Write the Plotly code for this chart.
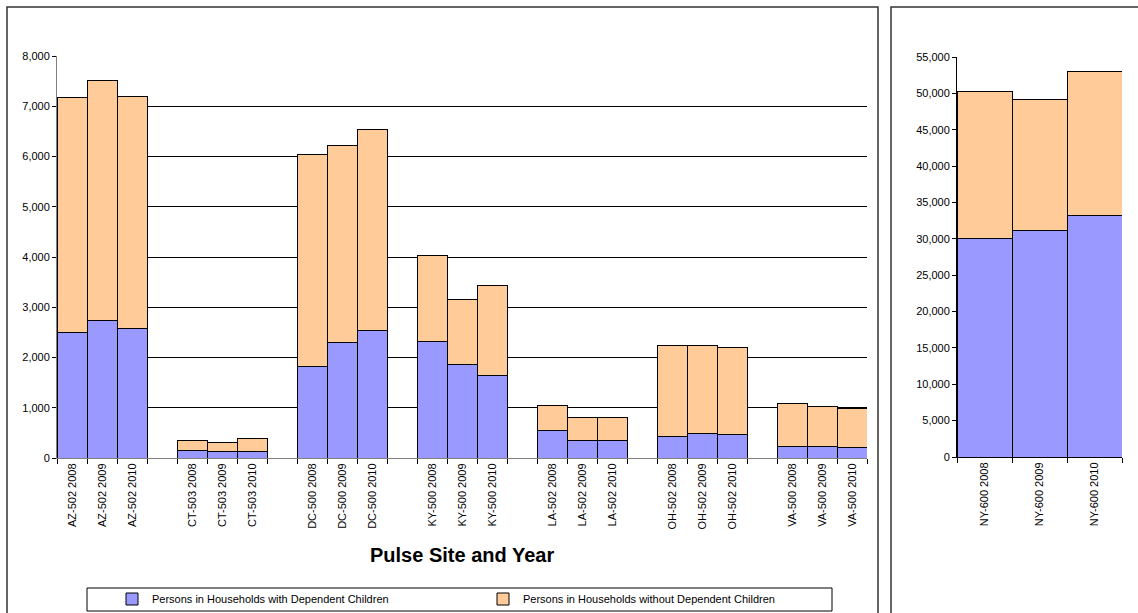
import plotly.graph_objects as go

W, H = 1138, 613

# Pulse sites and years shown on the main chart
sites = ["AZ-502", "CT-503", "DC-500", "KY-500", "LA-502", "OH-502", "VA-500"]
years = ["2008", "2009", "2010"]

# Persons in households with / without dependent children (main chart)
with_children = [2500, 2730, 2570,
                 145, 125, 125,
                 1830, 2295, 2530,
                 2320, 1865, 1640,
                 545, 350, 350,
                 430, 485, 465,
                 225, 225, 205]
without_children = [4680, 4790, 4630,
                    195, 185, 255,
                    4200, 3920, 4000,
                    1700, 1285, 1795,
                    490, 465, 465,
                    1810, 1755, 1725,
                    850, 805, 780]

# New York is plotted on its own scale
ny_labels = ["NY-600 2008", "NY-600 2009", "NY-600 2010"]
ny_with_children = [30070, 31120, 33190]
ny_without_children = [20190, 18100, 19830]

series_names = ["Persons in Households with Dependent Children",
                "Persons in Households without Dependent Children"]
BLUE = "#9999FF"
ORANGE = "#FFCC99"
FONT = "Liberation Sans, Arial, sans-serif"

# Category axis: each site's three years, with an empty slot between sites
cats, yw, yo = [], [], []
k = 0
for i, s in enumerate(sites):
    if i > 0:
        cats.append(" " * i)
        yw.append(None)
        yo.append(None)
    for y in years:
        cats.append(f"{s} {y}")
        yw.append(with_children[k])
        yo.append(without_children[k])
        k += 1


def px_x(p):
    return p / W


def px_y(p):
    return 1 - p / H


fig = go.Figure()
bar_line = dict(color="black", width=1)
fig.add_trace(go.Bar(x=cats, y=yw, name=series_names[0], xaxis="x", yaxis="y",
                     marker=dict(color=BLUE, line=bar_line)))
fig.add_trace(go.Bar(x=cats, y=yo, name=series_names[1], xaxis="x", yaxis="y",
                     marker=dict(color=ORANGE, line=bar_line)))
fig.add_trace(go.Bar(x=ny_labels, y=ny_with_children, name=series_names[0],
                     xaxis="x2", yaxis="y2", showlegend=False,
                     marker=dict(color=BLUE, line=bar_line)))
fig.add_trace(go.Bar(x=ny_labels, y=ny_without_children, name=series_names[1],
                     xaxis="x2", yaxis="y2", showlegend=False,
                     marker=dict(color=ORANGE, line=bar_line)))

tickfont = dict(family=FONT, size=11, color="black")

fig.update_layout(
    width=W, height=H,
    margin=dict(l=0, r=0, t=0, b=0, autoexpand=False),
    paper_bgcolor="white", plot_bgcolor="white",
    barmode="stack", bargap=0,
    font=dict(family=FONT, size=11, color="black"),
    showlegend=True,
    hovermode=False,
    xaxis=dict(
        domain=[px_x(57), px_x(867)], anchor="y", automargin=False,
        type="category", categoryorder="array", categoryarray=cats,
        range=[-0.5, len(cats) - 0.5],
        tickson="boundaries", ticks="outside", ticklen=5, tickcolor="black",
        tickangle=-90, tickfont=tickfont,
        showline=True, linecolor="#808080", linewidth=1,
        showgrid=False, fixedrange=True,
    ),
    yaxis=dict(
        domain=[px_y(458), px_y(56)], anchor="x", automargin=False,
        range=[0, 8000], dtick=1000, tickformat=",d",
        ticks="outside", ticklen=4, tickcolor="black", tickfont=tickfont,
        showline=True, linecolor="#808080", linewidth=1,
        showgrid=True, gridcolor="black", gridwidth=1,
        zeroline=False, fixedrange=True,
    ),
    xaxis2=dict(
        domain=[px_x(957), px_x(1122)], anchor="y2", automargin=False,
        type="category", categoryorder="array", categoryarray=ny_labels,
        tickson="boundaries", ticks="outside", ticklen=5, tickcolor="black",
        tickangle=-90, tickfont=tickfont,
        showline=True, linecolor="black", linewidth=1,
        showgrid=False, fixedrange=True,
    ),
    yaxis2=dict(
        domain=[px_y(457), px_y(57)], anchor="x2", automargin=False,
        range=[0, 55000], dtick=5000, tickformat=",d",
        ticks="outside", ticklen=4, tickcolor="black", tickfont=tickfont,
        showline=True, linecolor="black", linewidth=1,
        showgrid=False, zeroline=False, fixedrange=True,
    ),
    legend=dict(
        orientation="h", x=px_x(112), y=px_y(599),
        xanchor="left", yanchor="middle",
        entrywidth=326, entrywidthmode="pixels",
        font=dict(family=FONT, size=11, color="black"),
        bgcolor="rgba(0,0,0,0)", borderwidth=0,
        traceorder="normal", itemwidth=30,
    ),
    annotations=[dict(
        text="<b>Pulse Site and Year</b>", x=px_x(462), y=px_y(555),
        xref="paper", yref="paper", showarrow=False,
        xanchor="center", yanchor="middle",
        font=dict(family=FONT, size=20, color="black"),
    )],
    shapes=[
        # panel frames
        dict(type="rect", xref="paper", yref="paper",
             x0=px_x(7), x1=px_x(878), y0=px_y(620), y1=px_y(7),
             line=dict(color="#333333", width=1.5), layer="below"),
        dict(type="rect", xref="paper", yref="paper",
             x0=px_x(891), x1=px_x(1150), y0=px_y(620), y1=px_y(7),
             line=dict(color="#333333", width=1.5), layer="below"),
        # legend frame
        dict(type="rect", xref="paper", yref="paper",
             x0=px_x(87), x1=px_x(832), y0=px_y(611), y1=px_y(588),
             line=dict(color="black", width=1), layer="below"),
    ],
)

fig.write_html("out.html", config=dict(displayModeBar=False, staticPlot=True))
